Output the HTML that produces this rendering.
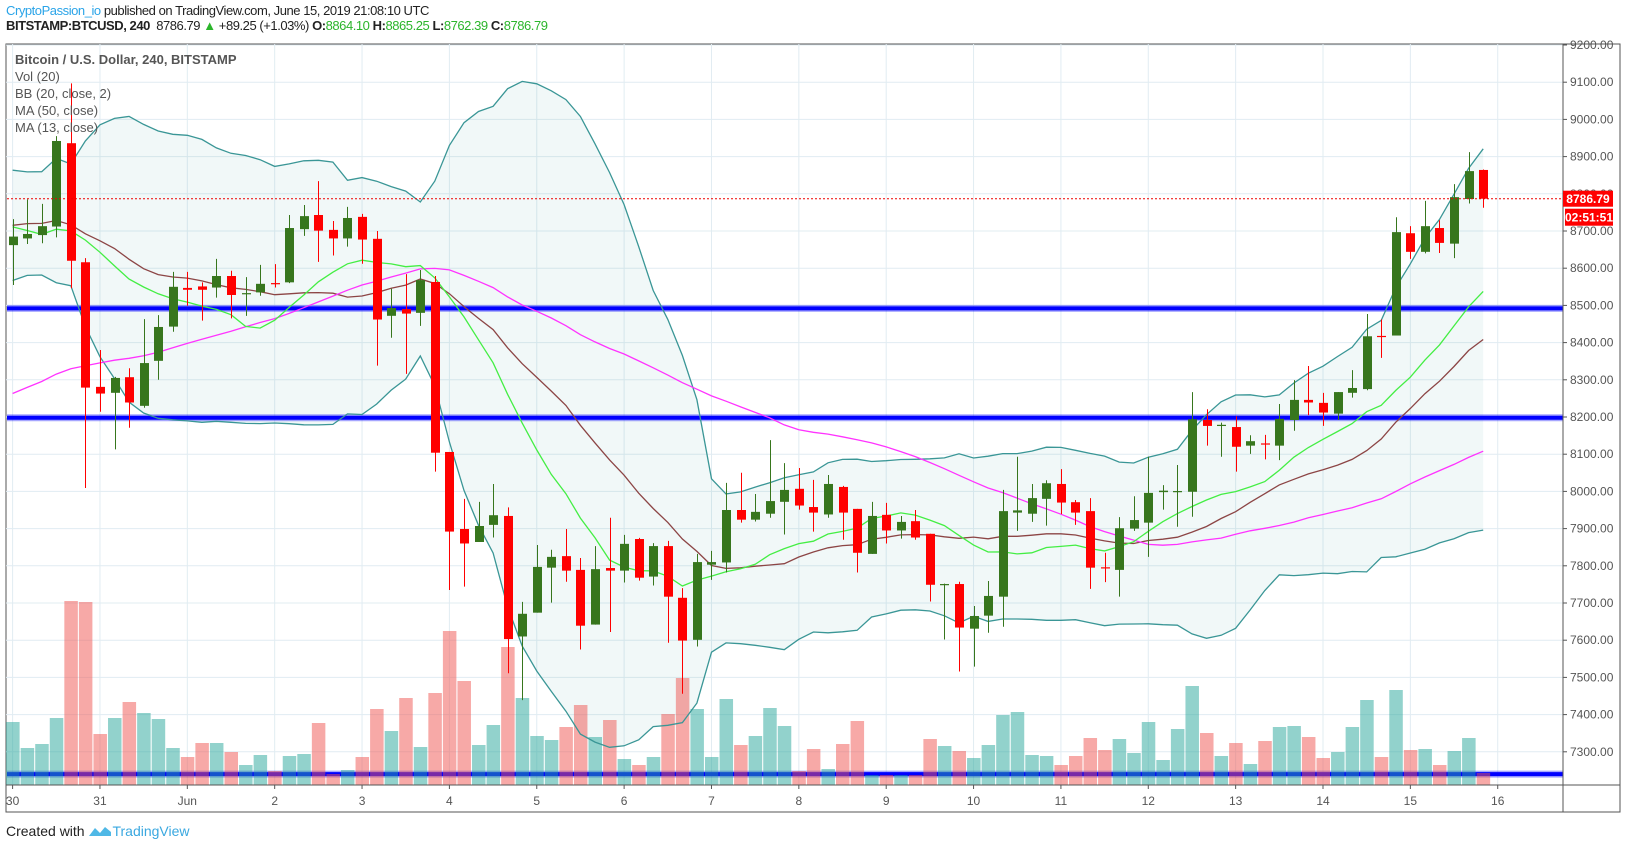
<!DOCTYPE html>
<html><head><meta charset="utf-8"><title>BTCUSD 240 chart</title>
<style>
html,body{margin:0;padding:0;background:#fff;}
body{width:1627px;height:849px;overflow:hidden;position:relative;font-family:"Liberation Sans",sans-serif;}
.hdr{position:absolute;left:6px;font-size:13px;white-space:nowrap;color:#222;letter-spacing:-0.45px;}
svg{position:absolute;left:0;top:0;}
</style></head>
<body>
<div class="hdr" style="top:3px"><span style="color:#2aa4e8">CryptoPassion_io</span> published on TradingView.com, June 15, 2019 21:08:10 UTC</div>
<div class="hdr" style="top:18px"><b>BITSTAMP:BTCUSD, 240</b>&nbsp; 8786.79 <span style="color:#2bb52b">▲</span> +89.25 (+1.03%) <b>O:</b><span style="color:#2bb52b">8864.10</span> <b>H:</b><span style="color:#2bb52b">8865.25</span> <b>L:</b><span style="color:#2bb52b">8762.39</span> <b>C:</b><span style="color:#2bb52b">8786.79</span></div>
<svg id="chart" width="1627" height="849"></svg>
<div class="hdr" style="top:822px;font-size:14px;letter-spacing:0">Created with <svg width="24" height="14" style="position:relative;left:0;top:2px;vertical-align:baseline"><path d="M1 12 L7 4 L12 9 L17 3 L23 8 L23 12 Z" fill="#4fb8e6"/></svg><span style="color:#3aa8e0">TradingView</span></div>
<script>
const opens=[8662,8680,8689,8712,8936,8616,8281,8265,8307,8230,8351,8443,8547,8551,8548,8579,8530,8535,8560,8562,8705,8743,8703,8680,8738,8679,8472,8490,8480,8563,8106,7899,7864,7910,7934,7610,7674,7795,7826,7789,7642,7794,7787,7872,7771,7853,7714,7601,7803,7809,7950,7924,7940,7972,8007,7958,7938,8012,7953,7832,7937,7895,7920,7886,7750,7751,7631,7666,7717,7943,7940,7980,8020,7971,7947,7796,7789,7900,7916,7998,8000,7999,8192,8177,8173,8123,8129,8123,8192,8246,8238,8209,8265,8275,8418,8419,8694,8644,8708,8666,8786,8864.10];
const highs=[8732,8785,8773,8955,9097,8627,8380,8308,8331,8463,8474,8590,8590,8562,8625,8593,8576,8609,8611,8743,8770,8834,8727,8765,8746,8700,8545,8584,8595,8579,8106,7980,7972,8020,7957,7703,7856,7843,7899,7821,7853,7929,7883,7875,7861,7867,7740,7832,7840,8023,8050,7993,8138,8076,8063,8031,8044,8015,7953,7972,7969,7934,7950,7886,7752,7757,7692,7759,8004,8093,8020,8030,8060,7977,7982,7835,7931,7987,8093,8017,8071,8267,8221,8185,8202,8151,8152,8235,8299,8337,8265,8267,8326,8477,8462,8737,8713,8781,8729,8826,8912,8865.25];
const lows=[8555,8665,8667,8683,8546,8009,8214,8113,8171,8225,8300,8429,8499,8459,8521,8465,8472,8526,8548,8560,8687,8617,8634,8658,8612,8338,8413,8316,8445,8053,7735,7744,7864,7876,7511,7439,7674,7701,7757,7575,7642,7622,7755,7760,7747,7593,7456,7583,7762,7782,7916,7919,7929,7884,7951,7892,7929,7870,7782,7832,7860,7873,7870,7704,7602,7516,7529,7620,7636,7894,7918,7908,7939,7910,7738,7756,7717,7894,7824,7951,7905,7932,8123,8093,8053,8101,8086,8084,8163,8205,8176,8192,8252,8272,8359,8419,8625,8640,8641,8627,8774,8762.39];
const closes=[8685,8692,8713,8942,8620,8279,8263,8305,8239,8345,8442,8550,8542,8542,8579,8528,8533,8558,8558,8708,8740,8701,8680,8735,8677,8462,8493,8478,8568,8104,7892,7860,7907,7936,7603,7671,7797,7824,7787,7639,7791,7787,7859,7768,7853,7717,7599,7810,7810,7950,7924,7945,7974,8004,7962,7943,8020,7943,7835,7934,7895,7918,7876,7749,7751,7634,7665,7719,7947,7949,7982,8022,7970,7943,7795,7793,7901,7923,7996,8002,8001,8194,8176,8179,8120,8135,8127,8195,8246,8239,8212,8267,8278,8417,8417,8697,8644,8713,8668,8791,8861,8786.79];
const volumes=[63,37,41,67,184,183,51,67,83,72,66,37,28,42,42,33,20,30,14,29,31,62,11,15,28,76,54,87,38,92,154,104,40,60,138,87,49,45,58,80,48,65,26,20,28,71,107,76,28,86,40,49,77,59,14,36,16,41,64,10,10,10,10,46,39,34,27,40,70,73,30,29,20,29,47,35,46,32,63,25,56,99,52,29,42,21,44,58,59,48,27,33,58,85,28,95,35,36,20,34,47,12];
// closes of the 49 candles before the first visible one (estimated warm-up for MA50 / BB20 / MA13)
const priorCloses=[7880,7920,7950,7900,7860,7890,7940,7990,8010,7970,7930,7960,8000,8020,7990,7950,7980,8030,8010,7970,7920,7900,7940,7980,7960,7930,7950,8000,8040,8090,8600,8700,8790,8850,8760,8640,8720,8820,8850,8760,8680,8600,8690,8780,8700,8620,8680,8720,8660];
const priceTicks=[7300,7400,7500,7600,7700,7800,7900,8000,8100,8200,8300,8400,8500,8600,8700,8800,8900,9000,9100,9200];
const dayLabels=['30','31','Jun','2','3','4','5','6','7','8','9','10','11','12','13','14','15','16'];
const levels=[8492,8198,7240];
const lastPrice=8786.79;

const NS='http://www.w3.org/2000/svg';
const svg=document.getElementById('chart');
const L=6,T=44,R=1563,B=785,AXR=1620,AXB=812;
const CW=14.56, X0=12.6;
function x(i){return X0+i*CW;}
function y(p){return T+1+(9200-p)*0.372;}
const volMax=Math.max(...volumes);
function yv(v){return B-v/volMax*184;}
function mk(tag,attrs,parent){const e=document.createElementNS(NS,tag);for(const k in attrs)e.setAttribute(k,attrs[k]);(parent||svg).appendChild(e);return e;}

const frame=mk('rect',{x:L,y:T,width:AXR-L,height:AXB-T,fill:'#fff',stroke:'#555','stroke-width':1});


const gGrid=mk('g',{});


priceTicks.forEach(p=>{
  const ln=mk('line',{x1:L,x2:R,y1:y(p),y2:y(p),stroke:'#e1ecf2','stroke-width':1},gGrid);
  
  
});
dayLabels.forEach((d,k)=>{
  const xx=x(k*6);
  const ln=mk('line',{x1:xx,x2:xx,y1:T,y2:B,stroke:'#e1ecf2','stroke-width':1},gGrid);
  
  
});

const all=priorCloses.concat(closes);
const off=priorCloses.length;
function sma(n,i){let s=0;for(let k=i-n+1;k<=i;k++)s+=all[k];return s/n;}
function sd(n,i){const m=sma(n,i);let s=0;for(let k=i-n+1;k<=i;k++)s+=(all[k]-m)**2;return Math.sqrt(s/n);}
const up=[],lo=[],mid=[],ma50=[],ma13=[];
closes.forEach((c,i)=>{const j=i+off;const m=sma(20,j),s=sd(20,j);mid.push(m);up.push(m+2*s);lo.push(m-2*s);ma50.push(sma(50,j));ma13.push(sma(13,j));});
function pts(arr){return arr.map((v,i)=>x(i).toFixed(1)+','+y(v).toFixed(1)).join(' ');}
const fillPts=up.map((v,i)=>x(i).toFixed(1)+','+y(v).toFixed(1)).concat(lo.map((v,i)=>[i,v]).reverse().map(a=>x(a[0]).toFixed(1)+','+y(a[1]).toFixed(1))).join(' ');
const bbFill=mk('polygon',{points:fillPts,fill:'rgba(0,128,128,0.055)'});



levels.forEach((p,k)=>{
  const ln=mk('line',{x1:L+1,x2:R,y1:y(p),y2:y(p),stroke:'rgba(0,0,255,0.35)','stroke-width':7});
  
  
  const ln2=mk('line',{x1:L+1,x2:R,y1:y(p),y2:y(p),stroke:'#0000ff','stroke-width':4});
  
  
});

volumes.forEach((v,i)=>{
  const g=closes[i]>=opens[i];
  const r=mk('rect',{x:x(i)-6.5,y:yv(v),width:13.5,height:B-yv(v),fill:g?'rgba(38,166,154,0.5)':'rgba(239,83,80,0.5)'});
  
  
});

const lines=[[up,'#3a9696','bb-upper'],[lo,'#3a9696','bb-lower'],[mid,'#8c4545','bb-basis'],[ma50,'#ff33ff','ma50-line'],[ma13,'#44ee44','ma13-line']];
lines.forEach(([arr,col,nm])=>{
  const pl=mk('polyline',{points:pts(arr),fill:'none',stroke:col,'stroke-width':1.3});
  
  
});

closes.forEach((c,i)=>{
  const o=opens[i],g=c>=o,col=g?'#37761d':'#ff0000';
  const cx=Math.round(x(i))+0.5;
  const w=mk('line',{x1:cx,x2:cx,y1:y(highs[i]),y2:y(lows[i]),stroke:col,'stroke-width':1});
  
  
  const top=y(Math.max(o,c)),bot=y(Math.min(o,c));
  const b=mk('rect',{x:cx-4.5,y:top,width:9,height:Math.max(1.2,bot-top),fill:col});
  
  
});

const lp=mk('line',{x1:L+1,x2:R,y1:y(lastPrice),y2:y(lastPrice),stroke:'#e00','stroke-width':1,'stroke-dasharray':'2,2'});



const ax=mk('line',{x1:R,x2:R,y1:T,y2:AXB,stroke:'#555','stroke-width':1});


const bx=mk('line',{x1:L,x2:AXR,y1:B,y2:B,stroke:'#555','stroke-width':1});


priceTicks.forEach(p=>{
  const tk=mk('line',{x1:R,x2:R+4,y1:y(p),y2:y(p),stroke:'#555'});
  
  
  const t=mk('text',{x:R+7,y:y(p)+4,'font-size':'12','fill':'#555','font-family':'Liberation Sans, sans-serif'});
  t.textContent=p.toFixed(2);
  
  
});
dayLabels.forEach((d,k)=>{
  const xx=x(k*6);
  const tk=mk('line',{x1:xx,x2:xx,y1:B,y2:B+4,stroke:'#555'});
  
  
  const t=mk('text',{x:xx,y:B+20,'font-size':'12','fill':'#555','text-anchor':'middle','font-family':'Liberation Sans, sans-serif'});
  t.textContent=d;
  
  
});
const ty=y(lastPrice);
const tag=mk('rect',{x:R,y:ty-8,width:50,height:16,fill:'#ff0000'});


const tt=mk('text',{x:R+25,y:ty+4.5,'font-size':'12','font-weight':'bold','fill':'#fff','text-anchor':'middle','font-family':'Liberation Sans, sans-serif'});
tt.textContent=lastPrice.toFixed(2);


const tag2=mk('rect',{x:R+2,y:ty+10,width:48,height:17,fill:'#ff0000'});


const tt2=mk('text',{x:R+26,y:ty+23,'font-size':'12','font-weight':'bold','fill':'#fff','text-anchor':'middle','font-family':'Liberation Sans, sans-serif'});
tt2.textContent='02:51:51';



const legend=['Bitcoin / U.S. Dollar, 240, BITSTAMP','Vol (20)','BB (20, close, 2)','MA (50, close)','MA (13, close)'];
legend.forEach((s,k)=>{
  const t=mk('text',{x:15,y:64+k*17,'font-size':'13','fill':'#555','font-weight':k==0?'bold':'normal','font-family':'Liberation Sans, sans-serif'});
  t.textContent=s;
  
  
});
</script>
</body></html>
